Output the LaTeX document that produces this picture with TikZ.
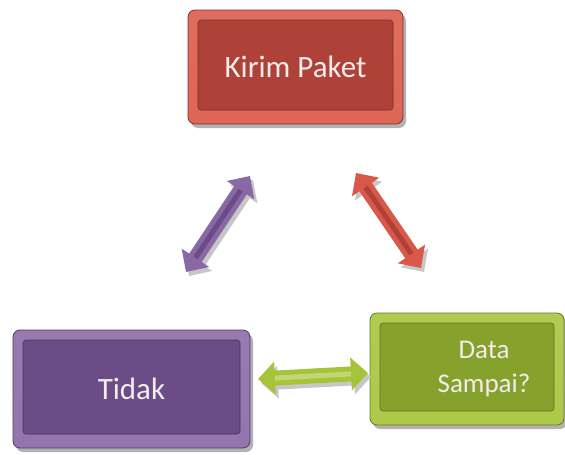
\documentclass[tikz,border=0pt]{standalone}
\usepackage{fontspec}
\setmainfont{Carlito}
\usetikzlibrary{arrows.meta,shadows}

\definecolor{redbevel}{HTML}{DA5849}
\definecolor{redface}{HTML}{AF4238}
\definecolor{purplebevel}{HTML}{8A68A6}
\definecolor{purpleface}{HTML}{6A4C86}
\definecolor{greenbevel}{HTML}{A6C43A}
\definecolor{greenface}{HTML}{87A12D}
\definecolor{labeltext}{HTML}{F2ECEC}

\tikzset{
  bevelbox/.style n args={2}{rectangle, rounded corners=7pt,
    draw=#2!75!black, line width=0.8pt,
    top color=#1!88!white, middle color=#1, bottom color=#1!92!white,
    drop shadow={shadow xshift=3pt, shadow yshift=-4pt, opacity=0.3, fill=black},
    path picture={\draw[fill=#2, draw=#2!70!black, line width=0.6pt, rounded corners=3pt]
      ([shift={(10pt,-10pt)}]path picture bounding box.north west) rectangle
      ([shift={(-10pt,14pt)}]path picture bounding box.south east);},
    text=labeltext, font=\fontsize{31}{35}\selectfont},
  dblarrow/.style={line width=15pt, draw=#1,
    {Triangle[length=17pt,width=32pt]}-{Triangle[length=17pt,width=32pt]}},
  arrowshadow/.style={dblarrow=black!22, transform canvas={shift={(3pt,-4pt)}}},
  arrowshine/.style={line width=5pt, draw=#1, shorten <=17pt, shorten >=17pt}
}

\begin{document}
\begin{tikzpicture}[x=1pt,y=-1pt]
 \useasboundingbox (0,0) rectangle (565,455);
 % boxes
 \node[bevelbox={redbevel}{redface}, minimum width=215pt, minimum height=114pt]
   (kirim) at (295.5,67) {Kirim Paket};
 \node[bevelbox={purplebevel}{purpleface}, minimum width=237pt, minimum height=118pt]
   (tidak) at (131.5,389) {Tidak};
 \node[bevelbox={greenbevel}{greenface}, minimum width=194pt, minimum height=112pt,
   font=\fontsize{27}{34}\selectfont]
   (sampai) at (467,369)
   {\hspace*{34pt}\begin{tabular}{@{}c@{}}Data\\Sampai?\end{tabular}};
 % arrow ends
 \coordinate (kt1) at (250,176);
 \coordinate (kt2) at (186,272);
 \coordinate (ks1) at (356,173);
 \coordinate (ks2) at (421,268);
 \coordinate (ts1) at (258,379);
 \coordinate (ts2) at (368,373);
 % arrows
 \draw[arrowshadow] (kt1) -- (kt2);
 \draw[arrowshadow] (ks1) -- (ks2);
 \draw[arrowshadow] (ts1) -- (ts2);
 \draw[dblarrow=purplebevel] (kt1) -- (kt2);
 \draw[arrowshine=purpleface] (kt1) -- (kt2);
 \draw[dblarrow=redbevel] (ks1) -- (ks2);
 \draw[arrowshine=redface] (ks1) -- (ks2);
 \draw[dblarrow=greenbevel] (ts1) -- (ts2);
 \draw[arrowshine=greenbevel!70!white] (ts1) -- (ts2);
\end{tikzpicture}
\end{document}
